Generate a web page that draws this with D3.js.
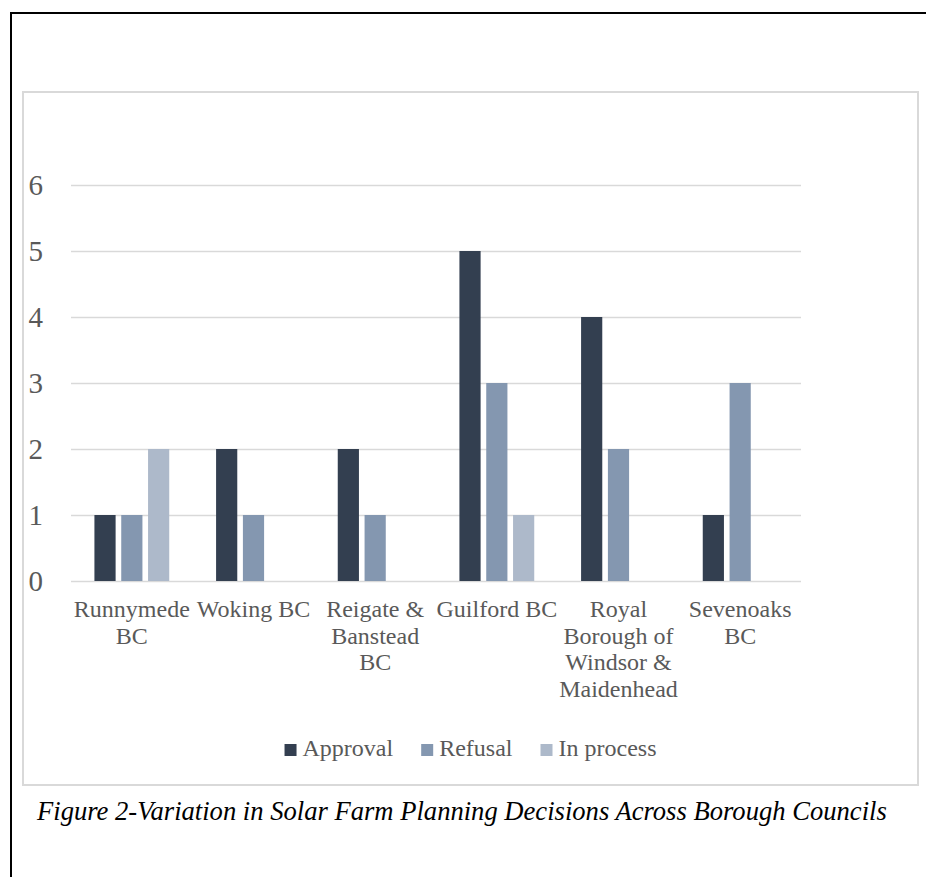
<!DOCTYPE html>
<html>
<head>
<meta charset="utf-8">
<script src="https://cdn.jsdelivr.net/npm/d3@7"></script>
<style>
  html, body { margin: 0; padding: 0; background: #fff; }
  svg { display: block; }
  text { font-family: "Liberation Serif", "Times New Roman", serif; }
</style>
</head>
<body>
<svg id="chart" width="926" height="877"></svg>
<script>
// ─── Data ─────────────────────────────────────────────────────────────────────

const councils = [
  "Runnymede BC", "Woking BC", "Reigate & Banstead BC",
  "Guilford BC", "Royal Borough of Windsor & Maidenhead", "Sevenoaks BC",
];
// how the category labels wrap under the axis
const councilLines = [
  ["Runnymede", "BC"],
  ["Woking BC"],
  ["Reigate &", "Banstead", "BC"],
  ["Guilford BC"],
  ["Royal", "Borough of", "Windsor &", "Maidenhead"],
  ["Sevenoaks", "BC"],
];
const series    = ["Approval", "Refusal", "In process"];
const approval  = [1, 2, 2, 5, 4, 1];
const refusal   = [1, 1, 1, 3, 2, 3];
const inProcess = [2, 0, 0, 1, 0, 0];
const yTicks    = [0, 1, 2, 3, 4, 5, 6];
const caption   = "Figure 2-Variation in Solar Farm Planning Decisions Across Borough Councils";

const COLORS = { "Approval": "#333f50", "Refusal": "#8497b0", "In process": "#adb9ca" };
const TEXT_GREY = "#595959";
const GRID_GREY = "#d9d9d9";

// ─── Layout ───────────────────────────────────────────────────────────────────

const svg = d3.select("#chart");
const plot = { left: 71, right: 801, top: 185, bottom: 581 };

// outer page frame (top + left only)
svg.append("line").attr("x1", 10).attr("x2", 926).attr("y1", 13).attr("y2", 13)
  .attr("stroke", "#000").attr("stroke-width", 2);
svg.append("line").attr("x1", 11).attr("x2", 11).attr("y1", 12).attr("y2", 877)
  .attr("stroke", "#000").attr("stroke-width", 2);

// chart area border
svg.append("rect").attr("x", 23).attr("y", 92).attr("width", 895).attr("height", 693)
  .attr("fill", "none").attr("stroke", GRID_GREY).attr("stroke-width", 2);

// ─── Scales ───────────────────────────────────────────────────────────────────

const x0 = d3.scaleBand().domain(councils).range([plot.left, plot.right])
  .paddingInner(0.385).paddingOuter(0.1925);
const x1 = d3.scaleBand().domain(series).range([0, x0.bandwidth()]).paddingInner(0.21);
const y  = d3.scaleLinear().domain([0, 6]).range([plot.bottom, plot.top]);

// ─── Grid + y axis ────────────────────────────────────────────────────────────

const yAxis = svg.append("g").attr("transform", `translate(${plot.left},0)`)
  .call(d3.axisLeft(y).tickValues(yTicks).tickFormat(d3.format("d"))
    .tickSize(-(plot.right - plot.left)).tickPadding(28));
yAxis.select(".domain").remove();
yAxis.selectAll(".tick line").attr("stroke", GRID_GREY).attr("stroke-width", 1.5);
yAxis.selectAll(".tick text")
  .attr("fill", TEXT_GREY).attr("font-size", 29)
  .attr("font-family", "'Liberation Serif', 'Times New Roman', serif");

// ─── Bars ─────────────────────────────────────────────────────────────────────

const rows = councils.map((c, i) => ({
  council: c,
  values: [approval[i], refusal[i], inProcess[i]],
}));

svg.append("g").selectAll("g")
  .data(rows)
  .join("g")
  .attr("transform", d => `translate(${x0(d.council)},0)`)
  .selectAll("rect")
  .data(d => series.map((s, k) => ({ key: s, value: d.values[k] })).filter(v => v.value > 0))
  .join("rect")
  .attr("x", d => x1(d.key))
  .attr("y", d => y(d.value))
  .attr("width", x1.bandwidth())
  .attr("height", d => y(0) - y(d.value))
  .attr("fill", d => COLORS[d.key]);

// ─── Category labels ──────────────────────────────────────────────────────────

const LINE_H = 26.5;
const catLabels = svg.append("g");
councils.forEach((c, i) => {
  const t = catLabels.append("text")
    .attr("x", x0(c) + x0.bandwidth() / 2)
    .attr("y", 617)
    .attr("text-anchor", "middle")
    .attr("font-size", 24)
    .attr("fill", TEXT_GREY);
  councilLines[i].forEach((line, k) => {
    t.append("tspan").attr("x", x0(c) + x0.bandwidth() / 2)
      .attr("dy", k === 0 ? 0 : LINE_H).text(line);
  });
});

// ─── Legend ───────────────────────────────────────────────────────────────────

const legend = svg.append("g");
let lx = 0;
series.forEach(s => {
  const item = legend.append("g").attr("transform", `translate(${lx},0)`);
  item.append("rect").attr("x", 0).attr("y", -12).attr("width", 12).attr("height", 12)
    .attr("fill", COLORS[s]);
  const label = item.append("text").attr("x", 18).attr("y", 0)
    .attr("font-size", 24).attr("fill", TEXT_GREY).text(s);
  lx += 18 + label.node().getComputedTextLength() + 28;
});
const legendW = lx - 28;
legend.attr("transform", `translate(${(23 + 918) / 2 - legendW / 2},756)`);

// ─── Caption ──────────────────────────────────────────────────────────────────

svg.append("text")
  .attr("x", 37).attr("y", 820)
  .attr("font-size", 26.6).attr("font-style", "italic").attr("fill", "#000")
  .text(caption);
</script>
</body>
</html>
